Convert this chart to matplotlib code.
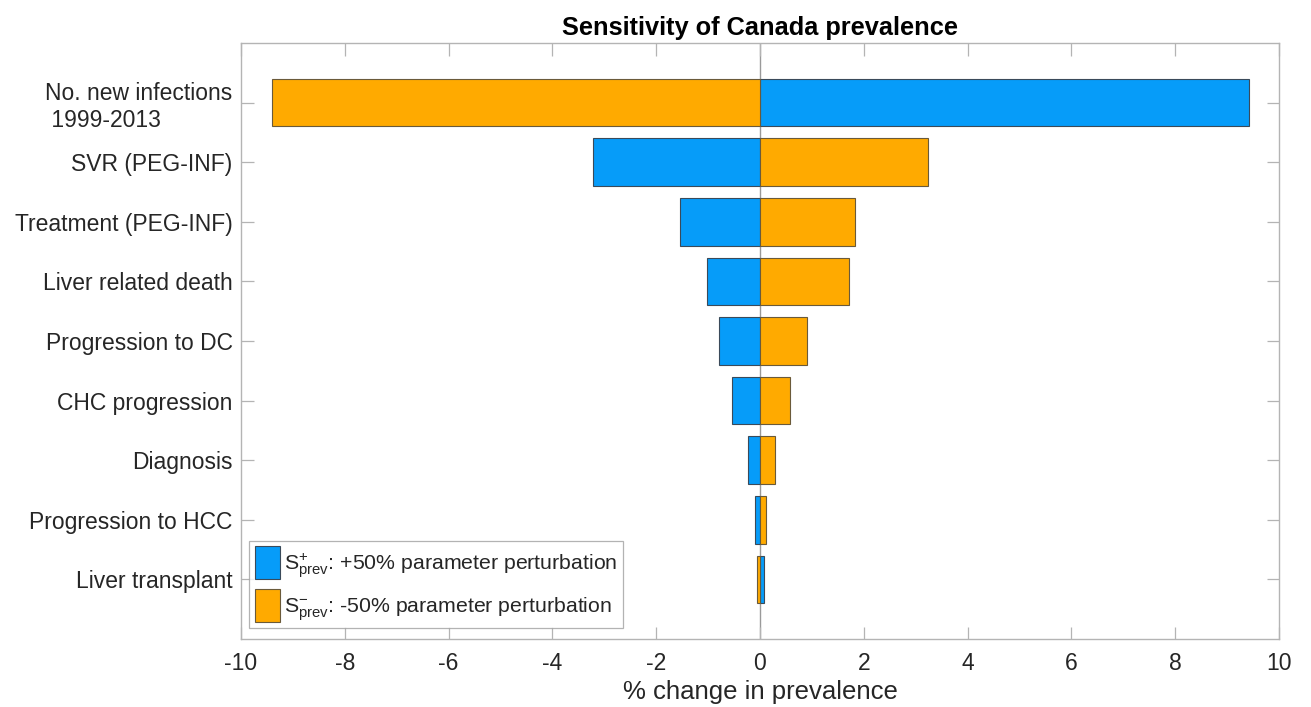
import matplotlib
matplotlib.use("Agg")
import matplotlib.pyplot as plt
import numpy as np

plt.rcParams["font.family"] = ["Liberation Sans", "DejaVu Sans"]
plt.rcParams["mathtext.fontset"] = "custom"
plt.rcParams["mathtext.rm"] = "Liberation Sans"
plt.rcParams["mathtext.it"] = "Liberation Sans"
plt.rcParams["mathtext.bf"] = "Liberation Sans:bold"

# Parameters, top to bottom
parameters = [
    "No. new infections\n 1999-2013",
    "SVR (PEG-INF)",
    "Treatment (PEG-INF)",
    "Liver related death",
    "Progression to DC",
    "CHC progression",
    "Diagnosis",
    "Progression to HCC",
    "Liver transplant",
]
# % change in prevalence for +50% perturbation
s_plus = [9.42, -3.22, -1.55, -1.03, -0.79, -0.545, -0.24, -0.10, 0.07]
# % change in prevalence for -50% perturbation
s_minus = [-9.41, 3.23, 1.84, 1.71, 0.90, 0.57, 0.29, 0.115, -0.065]

xticks = [-10, -8, -6, -4, -2, 0, 2, 4, 6, 8, 10]

blue = "#069CF9"
orange = "#FFAA00"
text_c = "#262626"
axis_c = "#B4B4B4"

fig = plt.figure(figsize=(13.11, 7.07), dpi=100)
ax = fig.add_axes([241 / 1311, 1 - 639 / 707, (1279 - 241) / 1311, (639 - 43) / 707])

y = np.arange(1, len(parameters) + 1)
ax.axvline(0, color="#9A9A9A", lw=1.0, zorder=1)
hb = ax.barh(y, s_plus, height=0.8, color=blue, edgecolor="#3a4a5a", linewidth=0.8, zorder=2)
ho = ax.barh(y, s_minus, height=0.8, color=orange, edgecolor="#6a5a3a", linewidth=0.8, zorder=2)

ax.set_xlim(-10, 10)
ax.set_ylim(10, 0)
ax.set_yticks(y)
ax.set_yticklabels(parameters, fontsize=16.5, color=text_c)
for lab in ax.get_yticklabels():
    lab.set_multialignment("left")
ax.set_xticks(xticks)
ax.set_xticklabels([str(t) for t in xticks], fontsize=16.5, color=text_c)

ax.tick_params(axis="both", which="both", direction="in", length=9, width=0.9,
               color=axis_c, top=True, right=True)
ax.tick_params(axis="y", pad=6)
ax.tick_params(axis="x", pad=9)
for s in ax.spines.values():
    s.set_color(axis_c)
    s.set_linewidth(1.0)

ax.set_xlabel("% change in prevalence", fontsize=18.5, color=text_c, labelpad=4)
ax.set_title("Sensitivity of Canada prevalence", fontsize=18.3, fontweight="bold",
             color="black", pad=6)

leg = ax.legend([hb, ho],
                [r"S$^{+}_{\mathrm{prev}}$: +50% parameter perturbation",
                 r"S$^{\mathrm{-}}_{\mathrm{prev}}$: -50% parameter perturbation"],
                loc="lower left", bbox_to_anchor=(0.008, 0.018), fontsize=15.3,
                frameon=True, fancybox=False, edgecolor="#A0A0A0",
                handlelength=1.2, handleheight=2.0, handletextpad=0.2,
                borderpad=0.25, labelspacing=0.45, borderaxespad=0.0)
leg.get_frame().set_linewidth(0.9)
for t in leg.get_texts():
    t.set_color(text_c)

fig.savefig("out.png", dpi=100)
